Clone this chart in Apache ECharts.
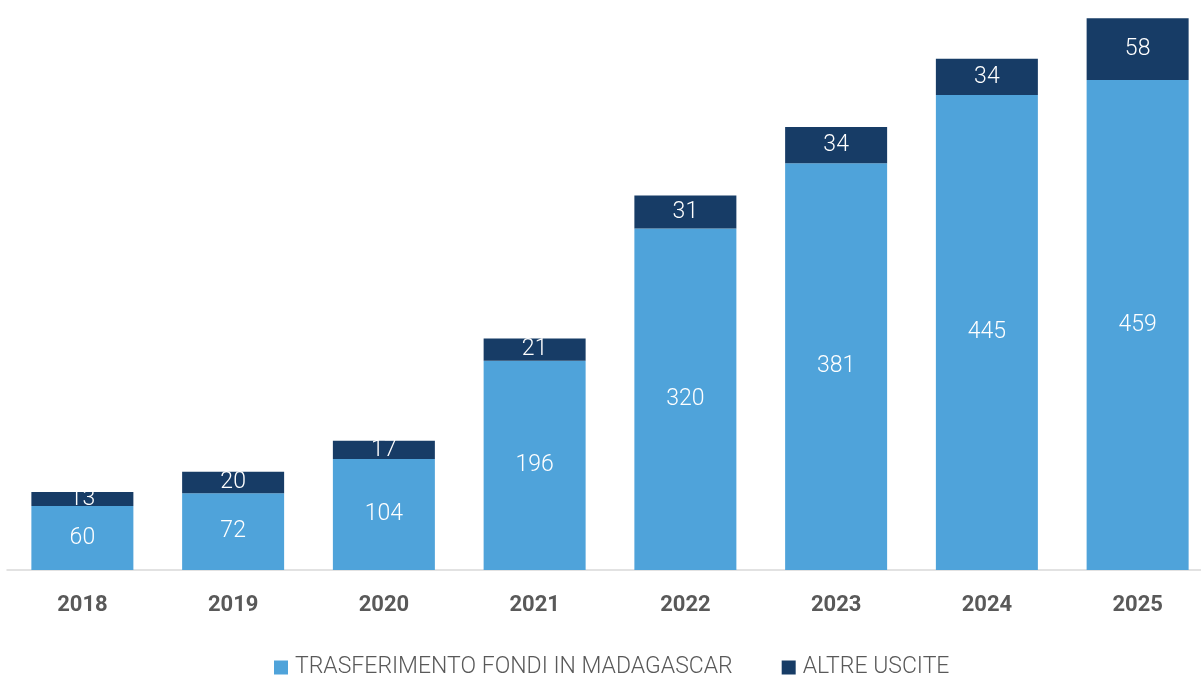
<!DOCTYPE html>
<html>
<head>
<meta charset="utf-8">
<script src="https://cdn.jsdelivr.net/npm/echarts@6/dist/echarts.min.js"></script>
<style>
  html, body { margin: 0; padding: 0; background: #fff; overflow: hidden; }
  /* a bit wider than the window: the last bar reaches the right edge */
  #main { width: 1213px; height: 675px; }
</style>
</head>
<body>
<div id="main"></div>
<script>
  // dati
  var years = ['2018', '2019', '2020', '2021', '2022', '2023', '2024', '2025']
  var trasferimento = [60, 72, 104, 196, 320, 381, 445, 459]
  var altreUscite = [13, 20, 17, 21, 31, 34, 34, 58]
  var seriesNames = ['TRASFERIMENTO FONDI IN MADAGASCAR', 'ALTRE USCITE']

  var myChart = echarts.init(document.getElementById('main'))

  var labelStyle = {
    show: true,
    position: 'inside',
    color: '#fff',
    fontFamily: 'Roboto',
    fontSize: 23,
    fontWeight: 300
  }

  var option = {
    animation: false,
    grid: {
      left: 7,
      top: 15,
      right: 0,
      bottom: 105
    },
    legend: {
      bottom: -9,
      left: 269,
      itemGap: 49,
      itemWidth: 14,
      itemHeight: 14,
      icon: 'rect',
      textStyle: {
        color: '#595959',
        fontFamily: 'Roboto',
        fontSize: 23,
        fontWeight: 300,
        padding: [0, 0, 0, 2]
      },
      data: seriesNames
    },
    xAxis: {
      type: 'category',
      data: years,
      axisTick: { show: false },
      axisLine: { lineStyle: { color: '#d9d9d9', width: 1.5 } },
      axisLabel: {
        color: '#595959',
        fontFamily: 'Roboto',
        fontWeight: 'bold',
        fontSize: 22,
        margin: 24
      }
    },
    yAxis: {
      type: 'value',
      min: 0,
      max: 520,
      show: false,
      splitLine: { show: false }
    },
    series: [
      {
        name: seriesNames[0],
        type: 'bar',
        stack: 'tot',
        barWidth: 102,
        itemStyle: { color: '#4fa3da' },
        label: labelStyle,
        data: trasferimento
      },
      {
        name: seriesNames[1],
        type: 'bar',
        stack: 'tot',
        barWidth: 102,
        itemStyle: { color: '#173c66' },
        label: labelStyle,
        data: altreUscite
      }
    ]
  }

  myChart.setOption(option)
  window.addEventListener('resize', function () {
    myChart.resize()
  })
</script>
</body>
</html>
